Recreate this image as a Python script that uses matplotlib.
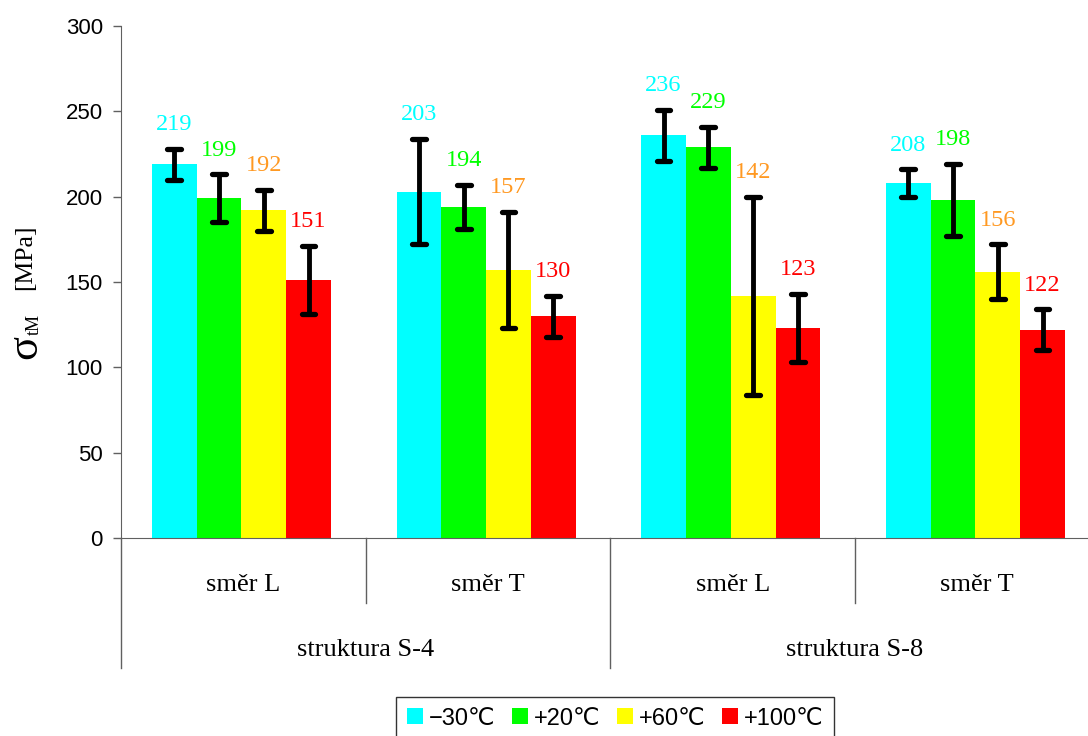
import matplotlib
matplotlib.use('Agg')
import matplotlib.pyplot as plt
import numpy as np

# data
directions = ['směr L', 'směr T', 'směr L', 'směr T']
structures = ['struktura S-4', 'struktura S-8']
series = ['−30℃', '+20℃', '+60℃', '+100℃']

vals_m30 = [219, 203, 236, 208]
vals_p20 = [199, 194, 229, 198]
vals_p60 = [192, 157, 142, 156]
vals_p100 = [151, 130, 123, 122]

err_m30 = [9, 31, 15, 8]
err_p20 = [14, 13, 12, 21]
err_p60 = [12, 34, 58, 16]
err_p100 = [20, 12, 20, 12]

bar_colors = ['#00FFFF', '#00FF00', '#FFFF00', '#FF0000']
label_colors = ['#00FFFF', '#00FF00', '#FF9922', '#FF0000']

values = [vals_m30, vals_p20, vals_p60, vals_p100]
errors = [err_m30, err_p20, err_p60, err_p100]

serif = ['Liberation Serif', 'DejaVu Serif']
sans = ['Liberation Sans', 'DejaVu Sans']

fig = plt.figure(figsize=(10.88, 7.36), dpi=100)
ax = fig.add_axes([121 / 1088, 1 - 538 / 736, (1099.7 - 121) / 1088, 512 / 736])

x = np.arange(len(directions))
width = 0.183
for i in range(4):
    xi = x + (i - 1.5) * width - 0.008
    ax.bar(xi, values[i], width, color=bar_colors[i], label=series[i], zorder=2)
    ax.vlines(xi, np.array(values[i]) - errors[i], np.array(values[i]) + errors[i],
              color='black', lw=3.5, zorder=3)
    for yy in [np.array(values[i]) - errors[i], np.array(values[i]) + errors[i]]:
        ax.hlines(yy, xi - 0.028, xi + 0.028, color='black', lw=3.8,
                  capstyle='round', zorder=3)
    for xx, v, e in zip(xi, values[i], errors[i]):
        ax.annotate(str(v), (xx, v + e), xytext=(0, 17.5), textcoords='offset points',
                    ha='center', va='center', color=label_colors[i],
                    fontsize=17.5, family=serif)

ax.set_xlim(-0.5, 3.5)
ax.set_ylim(0, 300)
ax.set_yticks(range(0, 301, 50))
ax.tick_params(axis='y', length=6, width=1, pad=7, labelsize=16, color='#606060')
for t in ax.get_yticklabels():
    t.set_family(sans)
ax.set_xticks([])
ax.spines['top'].set_visible(False)
ax.spines['right'].set_visible(False)
ax.spines['left'].set_color('#606060')
ax.spines['bottom'].set_color('#606060')

# two-level category axis
tr = ax.get_xaxis_transform()
for k, sx in enumerate(np.arange(-0.5, 4, 1)):
    depth = -0.254 if k % 2 == 0 else -0.127
    ax.plot([sx, sx], [0, depth], transform=tr, color='#606060', lw=1, clip_on=False)
for xx, name in zip(x, directions):
    ax.text(xx, -0.092, name, transform=tr, ha='center', va='center',
            fontsize=19, family=serif)
for k, name in enumerate(structures):
    ax.text(2 * k + 0.5, -0.219, name, transform=tr, ha='center', va='center',
            fontsize=19, family=serif)

# y label: big sigma, subscript, unit
fig.text(25 / 1088, 1 - 347 / 736, 'σ', rotation=90, ha='center', va='center',
         fontsize=32, family=serif)
fig.text(34 / 1088, 1 - 324 / 736, 'tM', rotation=90, ha='center', va='center',
         fontsize=13, family=serif)
fig.text(25 / 1088, 1 - 257 / 736, '[MPa]', rotation=90, ha='center', va='center',
         fontsize=18.5, family=serif)

leg = fig.legend(loc='upper left', bbox_to_anchor=(396 / 1088, 1 - 697 / 736),
                 ncol=4, frameon=True, fancybox=False, edgecolor='black',
                 prop={'family': sans, 'size': 17}, handlelength=0.68,
                 handleheight=0.68, handletextpad=0.25, columnspacing=0.7,
                 borderpad=0.45, borderaxespad=0)
leg.get_frame().set_linewidth(1)

fig.savefig('out.png', dpi=100)
